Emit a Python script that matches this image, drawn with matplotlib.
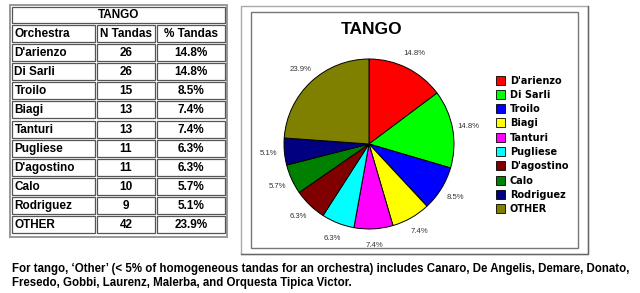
import matplotlib as mpl

mpl.use("Agg")

import matplotlib.pyplot as plt
from matplotlib.patches import Rectangle

ORCHESTRAS = ["D'arienzo", "Di Sarli", "Troilo", "Biagi", "Tanturi",
              "Pugliese", "D'agostino", "Calo", "Rodriguez", "OTHER"]
N_TANDAS = [26, 26, 15, 13, 13, 11, 11, 10, 9, 42]
PCT_TANDAS = ["14.8%", "14.8%", "8.5%", "7.4%", "7.4%",
              "6.3%", "6.3%", "5.7%", "5.1%", "23.9%"]
COLUMNS = ["Orchestra", "N Tandas", "% Tandas"]
COLORS = ["#ff0000", "#00ff00", "#0000ff", "#ffff00", "#ff00ff",
          "#00ffff", "#800000", "#008000", "#000080", "#808000"]
CAPTION = ("For tango, \u2018Other\u2019 (< 5% of homogeneous tandas for an orchestra) "
           "includes Canaro, De Angelis, Demare, Donato,\n"
           "Fresedo, Gobbi, Laurenz, Malerba, and Orquesta Tipica Victor.")

W, H = 640, 293
plt.rcParams["font.family"] = ["Liberation Sans", "DejaVu Sans"]

fig = plt.figure(figsize=(W / 100, H / 100), dpi=100, facecolor="white")
bg = fig.add_axes([0, 0, 1, 1])
bg.set_xlim(0, W)
bg.set_ylim(H, 0)
bg.axis("off")


def box(x0, y0, x1, y1, ec="#555555", lw=0.9):
    bg.add_patch(Rectangle((x0, y0), x1 - x0, y1 - y0, facecolor="none",
                           edgecolor=ec, linewidth=lw))


# ---- table ----
box(10, 5, 227, 237, ec="#999999", lw=1.4)
box(12, 7, 225, 23)
bg.text(118.5, 15.5, "TANGO", ha="center", va="center", fontsize=8.5, fontweight="bold")

col_x = [(12, 95), (97, 155), (157, 225)]
rows = [COLUMNS] + [[o, str(n), p] for o, n, p in zip(ORCHESTRAS, N_TANDAS, PCT_TANDAS)]
row_tops = [25] + [44 + i * 19.15 for i in range(len(ORCHESTRAS))]
for r, (cells, top) in enumerate(zip(rows, row_tops)):
    bottom = top + 17
    for c, ((x0, x1), txt) in enumerate(zip(col_x, cells)):
        box(x0, top, x1, bottom)
        if c == 0:
            bg.text(x0 + 2.5, (top + bottom) / 2 + 0.5, txt, ha="left", va="center",
                    fontsize=8.5, fontweight="bold")
        else:
            bg.text((x0 + x1) / 2, (top + bottom) / 2 + 0.5, txt, ha="center",
                    va="center", fontsize=8.5, fontweight="bold")

# ---- chart frames ----
box(241, 6, 588, 254, ec="#aaaaaa", lw=1.0)
bg.plot([588, 588, 241], [6, 254, 254], color="#666666", lw=1.0)
box(251, 12, 578, 248, ec="#777777", lw=1.0)
bg.text(372, 29, "TANGO", ha="center", va="center", fontsize=12.5, fontweight="bold")

# ---- pie ----
cx, cy, r = 369, 144, 85
pie_ax = fig.add_axes([(cx - r) / W, 1 - (cy + r) / H, 2 * r / W, 2 * r / H])
pct_iter = iter(PCT_TANDAS)
pie_ax.pie(N_TANDAS, colors=COLORS, startangle=90, counterclock=False, radius=1,
           autopct=lambda _: next(pct_iter), pctdistance=1.19,
           wedgeprops={"edgecolor": "black", "linewidth": 0.7},
           textprops={"fontsize": 5.6, "color": "#333333"})
pie_ax.set_xlim(-1, 1)
pie_ax.set_ylim(-1, 1)
pie_ax.set_aspect("equal")
pie_ax.axis("off")

# ---- legend ----
for i, (name, col) in enumerate(zip(ORCHESTRAS, COLORS)):
    y = 80 + i * 14.3
    bg.add_patch(Rectangle((496, y - 4.5), 9, 9, facecolor=col, edgecolor="black", linewidth=0.6))
    bg.text(510, y + 0.5, name, ha="left", va="center", fontsize=7, fontweight="bold",
            family="DejaVu Sans")

# ---- caption ----
bg.text(12, 276, CAPTION, ha="left", va="center", fontsize=8.3, fontweight="bold",
        linespacing=1.3)

fig.savefig("out.png", dpi=100)
